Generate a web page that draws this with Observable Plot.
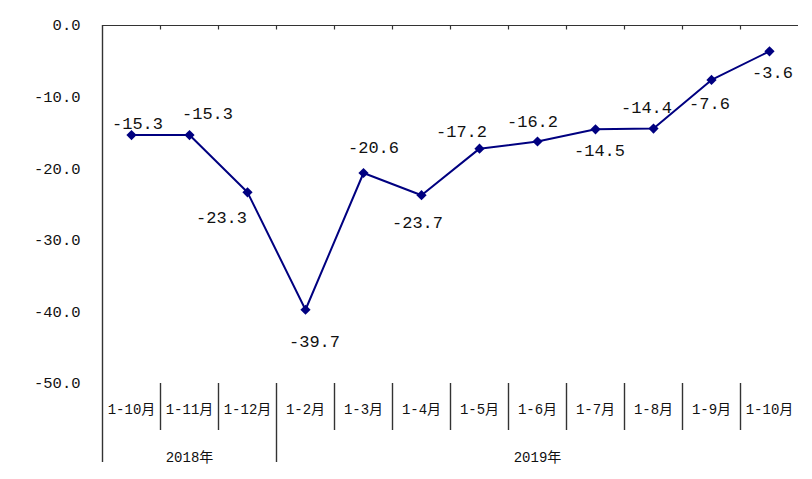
<!DOCTYPE html>
<html><head><meta charset="utf-8">
<script src="https://cdn.jsdelivr.net/npm/d3@7"></script>
<script src="https://cdn.jsdelivr.net/npm/@observablehq/plot@0.6"></script>
<style>body{margin:0;background:#fff}</style>
</head><body><div id="chart"></div>
<script>
// ---- data ----
const categories = ["1-10月","1-11月","1-12月","1-2月","1-3月","1-4月","1-5月","1-6月","1-7月","1-8月","1-9月","1-10月"];
const values = [-15.3,-15.3,-23.3,-39.7,-20.6,-23.7,-17.2,-16.2,-14.5,-14.4,-7.6,-3.6];
const years = ["2018年","2019年"];
const yearStart = [0,3];
const yearEnd = [3,12];
const yTicks = [0,-10,-20,-30,-40,-50];

// ---- layout (label offsets in px, not data) ----
const labelOffsets = [[6,-12],[18,-22],[-26,25],[9,32],[10,-25],[-4,27],[-18,-17],[-5,-20],[4,21],[-7,-21],[-2,24],[3,21]];

const W = 812, H = 479, mT = 25, mB = 96;
const pxPerUnit = (H - mB - mT) / 50;
const yAt = px => -(px - mT) / pxPerUnit; // convert pixel row to y value for layout outside frame

const data = values.map((v, i) => ({i, x: i + 0.5, v, cat: categories[i]}));
const monoFont = "'Liberation Mono','Noto Sans CJK SC',monospace";
const navy = "#000080";
const axisColor = "#333";

const labelMarks = data.map((d, i) => Plot.text([d], {
  x: "x", y: "v", text: d => d.v.toFixed(1),
  dx: labelOffsets[i][0], dy: labelOffsets[i][1],
  fontSize: 17, fontFamily: monoFont, fill: "#111"
}));

const seps = d3.range(1, 12);
const chart = Plot.plot({
  width: W, height: H,
  marginLeft: 102, marginRight: 14, marginTop: mT, marginBottom: mB,
  x: {domain: [0, 12], axis: null},
  y: {domain: [-50, 0], axis: null},
  marks: [
    Plot.axisY({ticks: yTicks, tickSize: 0, tickPadding: 22, tickFormat: d => d.toFixed(1),
      label: null, fontSize: 15.5, fontFamily: monoFont, fill: "#111"}),
    // top axis line (category axis crosses at 0)
    Plot.ruleY([0], {x1: 0, x2: 12, stroke: axisColor, strokeWidth: 1.2}),
    Plot.ruleX(seps, {x: d => d, y1: 0, y2: yAt(29.5), stroke: axisColor, strokeWidth: 1.2}),
    // left value axis line
    Plot.ruleX([0], {y1: 0, y2: yAt(462), stroke: axisColor, strokeWidth: 1.4}),
    // category separators
    Plot.ruleX(seps, {x: d => d, y1: yAt(383), y2: d => d === 3 ? yAt(462) : yAt(430), stroke: axisColor, strokeWidth: 1.4}),
    Plot.text(categories, {x: (d, i) => i + 0.5, y: yAt(409), text: d => d, fontSize: 14, fontFamily: monoFont, fill: "#111"}),
    Plot.text(years, {x: (d, i) => (yearStart[i] + yearEnd[i]) / 2, y: yAt(457), text: d => d, fontSize: 14, fontFamily: monoFont, fill: "#111"}),
    Plot.line(data, {x: "x", y: "v", stroke: navy, strokeWidth: 2}),
    Plot.dot(data, {x: "x", y: "v", symbol: "diamond2", r: 4.6, fill: navy, stroke: null}),
    ...labelMarks
  ]
});
document.getElementById("chart").appendChild(chart);
</script>
</body></html>
